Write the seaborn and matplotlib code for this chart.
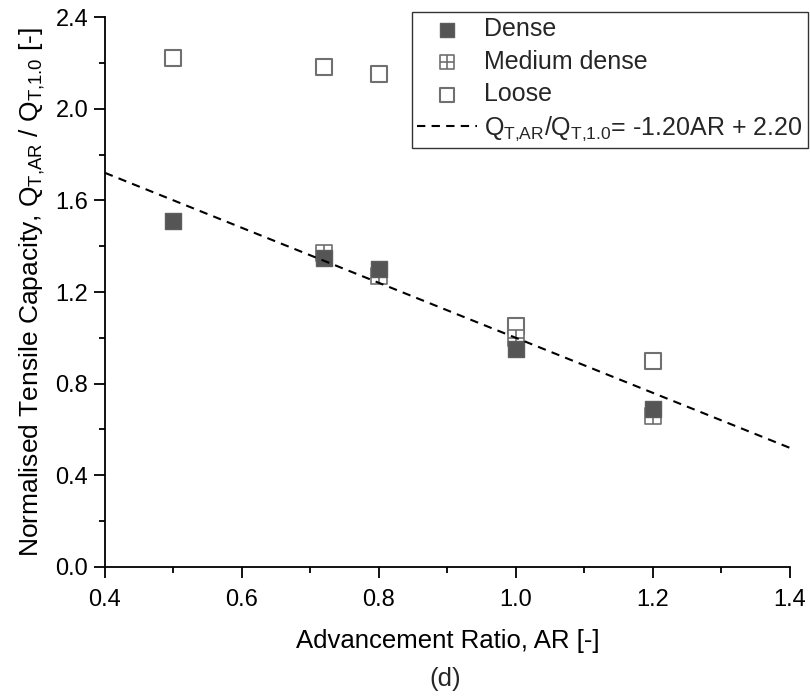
import matplotlib
matplotlib.use("Agg")
import matplotlib.pyplot as plt
from matplotlib.path import Path
from matplotlib.ticker import MultipleLocator
import seaborn as sns

sns.set_theme(style="ticks")
plt.rcParams['font.family'] = ['Liberation Sans', 'DejaVu Sans']
plt.rcParams['mathtext.fontset'] = 'custom'
plt.rcParams['mathtext.rm'] = 'Liberation Sans'
plt.rcParams['mathtext.it'] = 'Liberation Sans'

dense_x = [0.5, 0.72, 0.8, 1.0, 1.2]
dense_y = [1.51, 1.35, 1.30, 0.95, 0.69]
medium_x = [0.72, 0.8, 1.0, 1.2]
medium_y = [1.37, 1.27, 1.00, 0.66]
loose_x = [0.5, 0.72, 0.8, 1.0, 1.2]
loose_y = [2.22, 2.18, 2.15, 1.05, 0.90]
fit_slope = -1.20
fit_intercept = 2.20
fit_x = [0.4, 1.4]
fit_label = r'$Q_{T{,}AR}/Q_{T{,}1.0}$= -1.20AR + 2.20'

verts = [(-1, -1), (1, -1), (1, 1), (-1, 1), (-1, -1),
         (0, -1), (0, 1), (-1, 0), (1, 0)]
codes = [Path.MOVETO, Path.LINETO, Path.LINETO, Path.LINETO, Path.CLOSEPOLY,
         Path.MOVETO, Path.LINETO, Path.MOVETO, Path.LINETO]
plus_square = Path(verts, codes)

fig = plt.figure(figsize=(8.10, 6.98), dpi=100)
ax = fig.add_axes([0.1296, 0.1877, 0.975 - 0.1296, 0.9756 - 0.1877])

gray = '#555555'
edge = '#707070'
sz = 140
sns.scatterplot(x=loose_x, y=loose_y, marker='s', s=sz, facecolor='white',
                edgecolor=edge, linewidth=1.5, ax=ax, label='Loose', zorder=3)
sns.scatterplot(x=medium_x, y=medium_y, marker=plus_square, s=sz, facecolor='white',
                edgecolor=edge, linewidth=1.2, ax=ax, label='Medium dense', zorder=4)
sns.scatterplot(x=dense_x, y=dense_y, marker='s', s=sz, facecolor=gray,
                edgecolor='#5e5e5e', linewidth=1.0, ax=ax, label='Dense', zorder=5)
fit_y = [fit_slope * v + fit_intercept for v in fit_x]
sns.lineplot(x=fit_x, y=fit_y, color='black', linestyle=(0, (4, 3)), linewidth=1.5,
             ax=ax, label=fit_label, zorder=6)

ax.set_xlim(0.4, 1.4)
ax.set_ylim(0.0, 2.4)
ax.xaxis.set_major_locator(MultipleLocator(0.2))
ax.xaxis.set_minor_locator(MultipleLocator(0.1))
ax.yaxis.set_major_locator(MultipleLocator(0.4))
ax.yaxis.set_minor_locator(MultipleLocator(0.2))
ax.set_xticklabels([f"{v:.1f}" for v in ax.get_xticks()])
ax.set_yticklabels([f"{v:.1f}" for v in ax.get_yticks()])
ax.tick_params(axis='both', which='major', direction='out', length=8, width=1.3,
               labelsize=17, color='black', labelcolor='black', pad=4)
ax.tick_params(axis='x', which='major', pad=8)
ax.tick_params(axis='both', which='minor', direction='out', length=4.5, width=1.3, color='black')
for s in ['left', 'bottom']:
    ax.spines[s].set_linewidth(1.3)
    ax.spines[s].set_color('black')
for s in ['top', 'right']:
    ax.spines[s].set_visible(False)

ax.set_xlabel('Advancement Ratio, AR [-]', fontsize=18.5, labelpad=13, color='black')
ax.set_ylabel(r'Normalised Tensile Capacity, $Q_{T{,}AR}$ / $Q_{T{,}1.0}$ [-]', fontsize=19,
              labelpad=6, color='black')
fig.text(0.549, 0.01, '(d)', fontsize=18.5, ha='center', va='bottom')

handles, labels = ax.get_legend_handles_labels()
order = [labels.index(l) for l in ['Dense', 'Medium dense', 'Loose', fit_label]]
leg = ax.legend([handles[i] for i in order], [labels[i] for i in order],
                loc='upper right', bbox_to_anchor=(1.026, 1.009), fontsize=18,
                frameon=True, fancybox=False, edgecolor='#333333', framealpha=1,
                borderpad=0.2, labelspacing=0.34, handlelength=2.4, handletextpad=0.3,
                borderaxespad=0.0, markerscale=0.8)
leg.get_frame().set_linewidth(1.0)

fig.savefig('out.png', dpi=100)
